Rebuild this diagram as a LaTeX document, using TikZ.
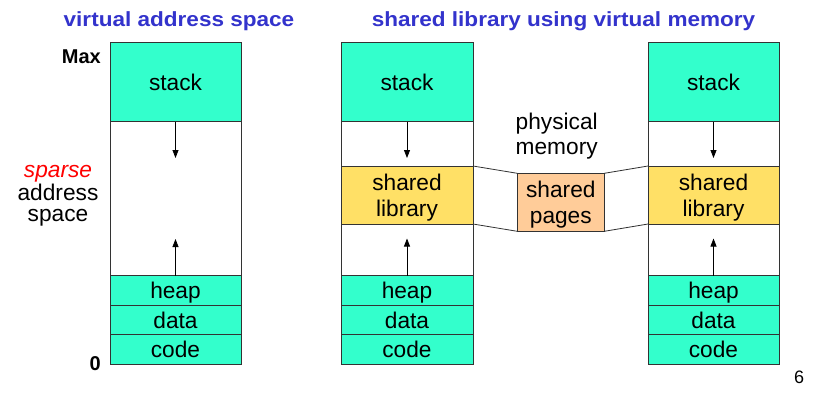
\documentclass[tikz,border=0pt]{standalone}
\usepackage{fontspec}
\setmainfont{Liberation Sans}
\usetikzlibrary{arrows.meta}
\definecolor{segfill}{RGB}{51,255,204}
\definecolor{libfill}{RGB}{255,224,102}
\definecolor{pagefill}{RGB}{255,204,153}
\definecolor{titleblue}{RGB}{51,51,204}
\definecolor{edge}{RGB}{51,51,51}
% labels with a fixed height/depth so every box puts its baseline at the same place
\newcommand{\oneline}[1]{\raisebox{0pt}[17pt][0pt]{#1}}
\newcommand{\twolines}[2]{\raisebox{0pt}[20pt][29pt]{\begin{tabular}[t]{@{}c@{}}#1\\#2\end{tabular}}}
\tikzset{
  seg/.style={draw=edge, line width=0.8pt, inner sep=0pt, outer sep=0pt,
    anchor=north west, minimum width=131pt, font=\fontsize{22.7}{26}\selectfont,
    align=center},
  tealseg/.style={seg, fill=segfill},
  gapseg/.style={seg, fill=white},
  libseg/.style={seg, fill=libfill},
  growarrow/.style={-{Triangle[length=8pt,width=6pt]}, line width=0.8pt, black},
  maplink/.style={draw=edge, line width=0.8pt},
  heading/.style={font=\fontsize{20.5}{24}\selectfont\bfseries, text=titleblue, anchor=base, inner sep=0pt},
  plaintext/.style={font=\fontsize{22.7}{26}\selectfont, anchor=base, inner sep=0pt, align=center},
  bound/.style={font=\fontsize{20}{24}\selectfont\bfseries, anchor=base east, inner sep=0pt}
}
\begin{document}
\begin{tikzpicture}[x=1pt, y=-1pt]
\useasboundingbox[fill=white] (0,0) rectangle (813,392);

% headings
\node[heading] (t1) at (179,26) {\scalebox{1.1}[1]{virtual address space}};
\node[heading] (t2) at (563.5,26) {\scalebox{1.1}[1]{shared library using virtual memory}};

% left column: a single process address space
\node[bound] (max) at (101,63) {Max};
\node[bound] (zero) at (101,370) {0};
\node[tealseg, minimum height=79.5pt] (stA) at (110,42) {\oneline{stack}};
\node[gapseg, minimum height=154pt] (gA) at (110,121.5) {};
\node[tealseg, minimum height=29.5pt] (hpA) at (110,275.5) {\oneline{heap}};
\node[tealseg, minimum height=29.5pt] (dtA) at (110,305) {\oneline{data}};
\node[tealseg, minimum height=29.5pt] (cdA) at (110,334.5) {\oneline{code}};
\coordinate (dnA) at (175.5,158);
\coordinate (upA) at (175.5,239);
\draw[growarrow] (stA.south) -- (dnA);
\draw[growarrow] (hpA.north) -- (upA);
\node[plaintext] (sparse) at (58,177.7) {\textcolor{red}{\itshape sparse}};
\node[plaintext] (addr) at (58,200) {address};
\node[plaintext] (spc) at (58,221.7) {space};

% middle column: process with a mapped shared library
\node[tealseg, minimum height=79.5pt, minimum width=132pt] (stB) at (341,42) {\oneline{stack}};
\node[gapseg, minimum height=44.5pt, minimum width=132pt] (g1B) at (341,121.5) {};
\node[libseg, minimum height=58pt, minimum width=132pt] (libB) at (341,166) {\twolines{shared}{library}};
\node[gapseg, minimum height=51.5pt, minimum width=132pt] (g2B) at (341,224) {};
\node[tealseg, minimum height=29.5pt, minimum width=132pt] (hpB) at (341,275.5) {\oneline{heap}};
\node[tealseg, minimum height=29.5pt, minimum width=132pt] (dtB) at (341,305) {\oneline{data}};
\node[tealseg, minimum height=29.5pt, minimum width=132pt] (cdB) at (341,334.5) {\oneline{code}};
\coordinate (dnB) at (407,158);
\coordinate (upB) at (407,238.5);
\draw[growarrow] (stB.south) -- (dnB);
\draw[growarrow] (hpB.north) -- (upB);

% right column: second process sharing the same pages
\node[tealseg, minimum height=79.5pt] (stC) at (648,42) {\oneline{stack}};
\node[gapseg, minimum height=44.5pt] (g1C) at (648,121.5) {};
\node[libseg, minimum height=58pt] (libC) at (648,166) {\twolines{shared}{library}};
\node[gapseg, minimum height=51.5pt] (g2C) at (648,224) {};
\node[tealseg, minimum height=29.5pt] (hpC) at (648,275.5) {\oneline{heap}};
\node[tealseg, minimum height=29.5pt] (dtC) at (648,305) {\oneline{data}};
\node[tealseg, minimum height=29.5pt] (cdC) at (648,334.5) {\oneline{code}};
\coordinate (dnC) at (713.5,158);
\coordinate (upC) at (713.5,238.5);
\draw[growarrow] (stC.south) -- (dnC);
\draw[growarrow] (hpC.north) -- (upC);

% physical memory holding the shared pages
\node[plaintext] (phys) at (556.7,129) {physical};
\node[plaintext] (mem) at (556.7,154.5) {memory};
\node[seg, fill=pagefill, minimum width=87pt, minimum height=58pt] (pages) at (517.3,173.3) {\twolines{shared}{pages}};
\draw[maplink] (libB.north east) -- (pages.north west);
\draw[maplink] (libB.south east) -- (pages.south west);
\draw[maplink] (pages.north east) -- (libC.north west);
\draw[maplink] (pages.south east) -- (libC.south west);

% slide number
\node[font=\fontsize{18}{21}\selectfont, anchor=base, inner sep=0pt] (num) at (799,383) {6};
\end{tikzpicture}
\end{document}
